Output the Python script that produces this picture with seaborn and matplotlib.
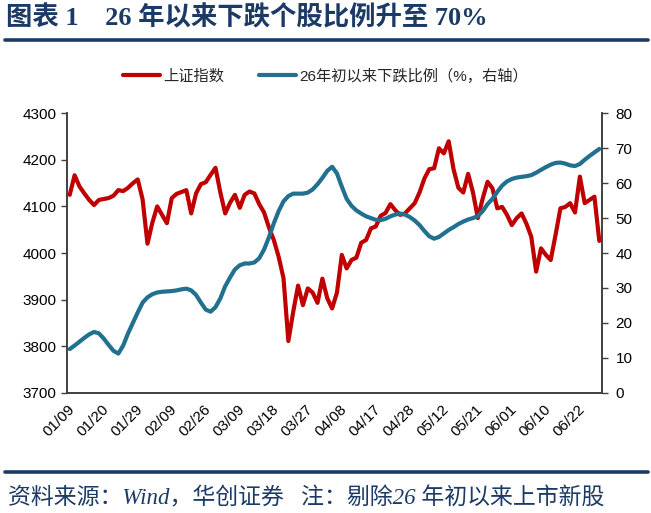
import numpy as np
import pandas as pd
import matplotlib
matplotlib.use("Agg")
import matplotlib.pyplot as plt
from matplotlib.lines import Line2D
import seaborn as sns

sns.set_style("white")
plt.rcParams["font.family"] = ["Liberation Sans", "Noto Sans CJK SC", "DejaVu Sans"]
plt.rcParams["axes.unicode_minus"] = False

# 数据：上证指数（左轴）
sh_index = [4125, 4167, 4143, 4128, 4114, 4103, 4114, 4116, 4118, 4123,
            4135, 4133, 4140, 4150, 4158, 4115, 4020, 4065, 4100, 4082,
            4064, 4118, 4127, 4131, 4135, 4085, 4128, 4148, 4152, 4168,
            4183, 4130, 4085, 4108, 4125, 4097, 4125, 4132, 4128, 4105,
            4087, 4055, 4028, 3992, 3946, 3811, 3874, 3930, 3888, 3924,
            3915, 3893, 3945, 3903, 3881, 3915, 3996, 3967, 3985, 3990,
            4022, 4028, 4053, 4057, 4080, 4086, 4105, 4092, 4082, 4085,
            4096, 4107, 4130, 4160, 4180, 4182, 4225, 4214, 4240, 4180,
            4140, 4130, 4170, 4130, 4075, 4117, 4153, 4139, 4096, 4099,
            4082, 4060, 4075, 4085, 4063, 4035, 3960, 4010, 3996, 3985,
            4039, 4096, 4099, 4107, 4087, 4164, 4107, 4114, 4121, 4026]

# 数据：26年初以来下跌比例（%，右轴）
down_ratio = [12.5, 13.5, 14.6, 15.7, 16.7, 17.4, 17.0, 15.5, 13.7, 12.0,
              11.2, 13.5, 17.0, 20.0, 23.0, 25.8, 27.3, 28.2, 28.7, 28.9,
              29.0, 29.1, 29.3, 29.6, 29.8, 29.3, 28.0, 25.8, 23.8, 23.2,
              24.5, 27.0, 30.5, 33.0, 35.3, 36.5, 37.0, 37.0, 37.3, 38.5,
              41.0, 44.5, 48.5, 52.0, 54.8, 56.3, 57.0, 57.0, 57.0, 57.3,
              58.2, 59.7, 61.5, 63.5, 64.7, 62.8, 59.0, 55.5, 53.5, 52.2,
              51.3, 50.5, 50.0, 49.5, 49.4, 49.8, 50.5, 51.0, 51.3, 51.0,
              50.3, 49.3, 48.0, 46.3, 44.8, 44.1, 44.6, 45.6, 46.6, 47.4,
              48.3, 49.0, 49.6, 50.0, 50.6, 52.0, 54.0, 55.5, 57.5, 59.3,
              60.5, 61.2, 61.6, 61.8, 62.0, 62.3, 63.0, 63.8, 64.6, 65.3,
              65.8, 65.9, 65.6, 65.1, 64.9, 65.5, 66.7, 67.8, 68.8, 69.8]

tick_labels = ["01/09", "01/20", "01/29", "02/09", "02/26", "03/09", "03/18", "03/27",
               "04/08", "04/17", "04/28", "05/12", "05/21", "06/01", "06/10", "06/22"]

df = pd.DataFrame({"pos": np.arange(len(sh_index)) + 0.5,
                   "sh": sh_index, "ratio": down_ratio})

red = "#C00000"
blue = "#21708F"
navy = "#1B3A66"
spine_c = "#404040"

fig = plt.figure(figsize=(6.51, 5.13), dpi=100)
ax = fig.add_axes([0.1034, 0.2345, 0.8209, 0.5446])
ax2 = ax.twinx()

sns.lineplot(data=df, x="pos", y="sh", ax=ax, color=red, linewidth=3.0)
sns.lineplot(data=df, x="pos", y="ratio", ax=ax2, color=blue, linewidth=3.0)

ax.set_xlim(0, len(sh_index))
ax.set_ylim(3700, 4300)
ax.set_yticks(np.arange(3700, 4301, 100))
ax2.set_ylim(0, 80)
ax2.set_yticks(np.arange(0, 81, 10))
ax.set_xticks(np.arange(len(tick_labels)) * 7)
ax.set_xticklabels(tick_labels, rotation=45, ha="right", va="top",
                   rotation_mode="anchor")
for a in (ax, ax2):
    a.set_xlabel("")
    a.set_ylabel("")
    a.spines["top"].set_visible(False)
    for s in ("left", "right", "bottom"):
        a.spines[s].set_color(spine_c)
        a.spines[s].set_linewidth(1.2)
    a.tick_params(axis="both", direction="out", length=4, width=1.0,
                  color=spine_c, labelsize=11, labelcolor="black")
ax.tick_params(axis="x", pad=3)
ax.tick_params(axis="y", left=True, pad=4)
ax2.tick_params(axis="y", right=True, pad=6)

# 图例
handles = [Line2D([0], [0], color=red, lw=3.0),
           Line2D([0], [0], color=blue, lw=3.0)]
fig.legend(handles, ["上证指数", "26年初以来下跌比例（%，右轴）"],
           loc="center", bbox_to_anchor=(0.5, 0.852), ncol=2, frameon=False,
           fontsize=11, handlelength=2.4, handletextpad=0.2, columnspacing=2.3)

# 标题与脚注
fig.text(0.009, 0.965, "图表 1    26 年以来下跌个股比例升至 70%",
         family=["Liberation Serif", "Noto Sans CJK SC"], fontweight="bold",
         fontsize=19, color=navy, va="center", ha="left")
fig.add_artist(Line2D([0.008, 0.995], [1 - 39.5 / 513] * 2, color=navy, lw=2.6))
fig.add_artist(Line2D([0.008, 0.995], [1 - 471.5 / 513] * 2, color=navy, lw=2.6))
fig.text(0.012, 1 - 498 / 513, "资料来源：Wind，华创证券   注：剔除26 年初以来上市新股",
         family=["Liberation Serif", "Noto Sans CJK SC"], style="italic",
         fontsize=16.5, color=navy, va="center", ha="left")

fig.savefig("out.png", dpi=100)
